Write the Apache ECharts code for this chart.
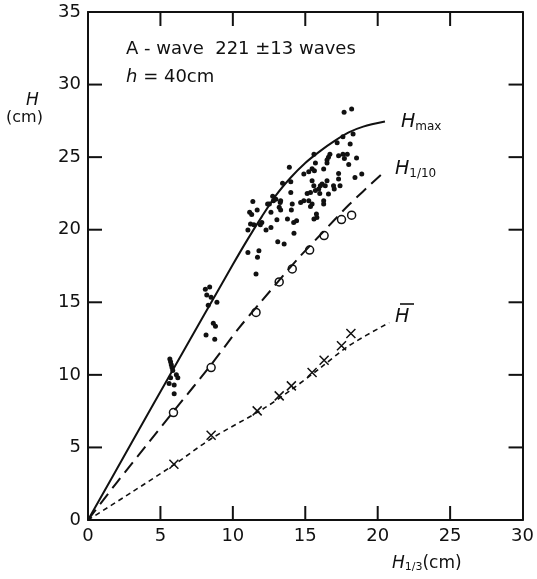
<!DOCTYPE html>
<html><head><meta charset="utf-8">
<script src="https://cdn.jsdelivr.net/npm/echarts@6/dist/echarts.min.js"></script>
<style>html,body{margin:0;padding:0;background:#fff}#c{width:537px;height:579px}</style>
</head><body><div id="c"></div>
<script>
// ---- data ----
const xRange = [0, 30];
const yRange = [0, 35];
const tickStep = 5;
const xTickValues = [5, 10, 15, 20, 25];
const yTickValues = [5, 10, 15, 20, 25, 30];

const hmaxCurve = [[0,0],[3,5.3],[6,10.6],[8,14.1],[10,17.6],[11,19.3],[12,20.9],[13,22.4],[14,23.6],[15,24.6],[16,25.4],[17,26.1],[18,26.7],[19,27.1],[20.5,27.45]];
const h10Curve = [[0,0],[2,2.6],[4,5.1],[6,7.6],[8.5,10.7],[10.4,13.2],[12,15.1],[14.4,17.9],[16,19.6],[18,21.7],[20.3,23.85]];
const hmeanCurve = [[0,0],[3,1.9],[6,3.85],[8.5,5.6],[12,7.6],[14,8.95],[16,10.45],[18,12.0],[20.8,13.6]];

const hmaxPoints = [
 [5.65,11.1],[5.7,10.9],[5.75,10.7],[5.8,10.5],[5.85,10.3],[6.1,10.0],[5.7,9.8],[6.2,9.8],[5.6,9.4],[5.95,9.3],[5.95,8.7],
 [8.1,15.9],[8.4,16.05],[8.2,15.5],[8.5,15.35],[8.9,15.0],[8.3,14.8],[8.65,13.55],[8.8,13.35],[8.15,12.75],[8.75,12.45],
 [11.04,18.43],[11.8,18.55],[11.7,18.1],[11.6,16.95],
 [11.38,21.95],[11.16,21.2],[11.3,21.05],[11.68,21.36],[12.52,21.77],[12.8,22.0],[12.97,22.1],[13.27,21.88],[13.2,21.54],
 [13.3,21.36],[12.63,21.2],[11.22,20.4],[11.45,20.34],[11.04,19.98],[12.0,20.5],[11.9,20.35],[12.29,19.98],[12.63,20.16],
 [13.04,20.69],[13.77,20.74],[14.1,21.77],[14.04,21.36],[14.4,20.62],[14.2,20.5],[14.22,19.75],[13.1,19.17],[13.54,19.01],
 [13.43,23.2],[14.0,23.3],[14.0,22.57],[13.9,24.3],[13.3,22.0],[14.68,21.88],[14.9,22.0],[12.75,22.3],[12.4,21.77],
 [14.9,23.84],[15.24,24.0],[15.47,24.2],[15.47,23.38],[15.59,23.03],[15.13,22.5],[15.36,22.57],[15.7,22.7],[15.93,22.8],
 [16.04,23.03],[16.16,23.15],[15.47,21.77],[15.36,21.6],[16.27,21.77],[15.8,20.85],[15.24,22.0],[15.6,20.74],[15.77,21.08],
 [17.68,28.09],[18.2,28.32],[17.6,26.4],[18.3,26.6],[17.2,26.0],[18.1,25.9],[15.6,25.2],[16.7,25.2],[16.6,25.0],[16.5,24.8],
 [17.3,25.1],[17.6,25.2],[17.9,25.2],[17.7,24.9],[18.0,24.5],[18.54,24.94],[15.63,24.07],[16.27,24.19],[17.3,23.88],[17.3,23.5],
 [18.43,23.6],[18.9,23.84],[16.5,23.38],[16.38,23.03],[16.95,23.03],[17.4,23.03],[16.6,22.46],[16.27,22.0],[15.7,24.6],[16.5,24.6],
 [16.0,22.5],[17.0,22.8]
];
const h10Points = [[5.9,7.4],[8.5,10.5],[11.6,14.3],[13.2,16.4],[14.1,17.3],[15.3,18.6],[16.3,19.6],[17.5,20.7],[18.2,21.0]];
const hmeanPoints = [[5.93,3.84],[8.5,5.84],[11.68,7.52],[13.2,8.55],[14.04,9.24],[15.47,10.16],[16.3,11.0],[17.5,12.0],[18.15,12.85]];

// ---- chart ----
const ink = '#111';
const FONT = 'DejaVu Sans';
const TICK_LEN = 14;
const chart = echarts.init(document.getElementById('c'), null, {renderer:'canvas'});
function mkAxis(min, max, pos, labels){
  return {
    type:'value', min:min, max:max, interval:tickStep, position:pos,
    axisLine:{show:true, onZero:false, lineStyle:{color:ink, width:2}},
    axisTick:{show:false},
    splitLine:{show:false},
    axisLabel: labels ? {show:true, color:ink, fontFamily:FONT, fontSize:18, margin:7} : {show:false}
  };
}
function tickLine(x1, y1, x2, y2){
  return {type:'line', shape:{x1:x1, y1:y1, x2:x2, y2:y2}, style:{stroke:ink, lineWidth:2}};
}
chart.setOption({
  animation:false,
  backgroundColor:'#fff',
  grid:{left:88, right:10, top:12, bottom:59},
  xAxis:[ mkAxis(xRange[0], xRange[1], 'bottom', true), mkAxis(xRange[0], xRange[1], 'top', false) ],
  yAxis:[ mkAxis(yRange[0], yRange[1], 'left', true), mkAxis(yRange[0], yRange[1], 'right', false) ],
  series:[
    // inward tick marks on all four sides, placed through the axes' own scales
    {type:'custom', silent:true, clip:false, data:xTickValues.map(v => [v, yRange[0]]),
      renderItem:function(params, api){
        const v = api.value(0);
        const b = api.coord([v, yRange[0]]);
        const t = api.coord([v, yRange[1]]);
        return {type:'group', children:[
          tickLine(b[0], b[1], b[0], b[1] - TICK_LEN),
          tickLine(t[0], t[1], t[0], t[1] + TICK_LEN)
        ]};
      }},
    {type:'custom', silent:true, clip:false, data:yTickValues.map(v => [xRange[0], v]),
      renderItem:function(params, api){
        const v = api.value(1);
        const l = api.coord([xRange[0], v]);
        const r = api.coord([xRange[1], v]);
        return {type:'group', children:[
          tickLine(l[0], l[1], l[0] + TICK_LEN, l[1]),
          tickLine(r[0], r[1], r[0] - TICK_LEN, r[1])
        ]};
      }},
    {type:'line', data:hmaxCurve, smooth:0.3, symbol:'none', lineStyle:{color:ink, width:2}},
    {type:'line', data:h10Curve, smooth:0.3, symbol:'none', lineStyle:{color:ink, width:2, type:[13,7]}},
    {type:'line', data:hmeanCurve, smooth:0.3, symbol:'none', lineStyle:{color:ink, width:1.6, type:[5,4]}},
    {type:'scatter', data:hmaxPoints, symbol:'circle', symbolSize:5, itemStyle:{color:ink, opacity:1}},
    {type:'scatter', data:h10Points, symbol:'circle', symbolSize:8, itemStyle:{color:'#fff', borderColor:ink, borderWidth:1.5, opacity:1}},
    {type:'scatter', data:hmeanPoints, symbol:'path://M0,0L10,10M10,0L0,10', symbolSize:9,
      itemStyle:{color:'rgba(0,0,0,0)', borderColor:ink, borderWidth:1.5, opacity:1}}
  ],
  graphic:[
    {type:'text', left:126, top:40, style:{text:'A - wave  221 ±13 waves', font:'18px "DejaVu Sans"', fill:ink}},
    {type:'text', left:126, top:68, style:{text:'{i|h} = 40cm', font:'18px "DejaVu Sans"', fill:ink,
      rich:{i:{fontStyle:'italic', fontFamily:FONT, fontSize:18}}}},
    {type:'text', left:26, top:92, style:{text:'H', font:'italic 17px "DejaVu Sans"', fill:ink}},
    {type:'text', left:6, top:110, style:{text:'(cm)', font:'16px "DejaVu Sans"', fill:ink}},
    {type:'text', left:392, top:555, style:{text:'{i|H}{s|1/3}(cm)', font:'17px "DejaVu Sans"', fill:ink,
      rich:{i:{fontStyle:'italic', fontFamily:FONT, fontSize:17}, s:{fontFamily:FONT, fontSize:11, padding:[8,0,0,0]}}}},
    {type:'text', left:401, top:113, style:{text:'{i|H}{s|max}', fill:ink,
      rich:{i:{fontStyle:'italic', fontFamily:FONT, fontSize:19}, s:{fontFamily:FONT, fontSize:12, padding:[8,0,0,0]}}}},
    {type:'text', left:395, top:160, style:{text:'{i|H}{s|1/10}', fill:ink,
      rich:{i:{fontStyle:'italic', fontFamily:FONT, fontSize:19}, s:{fontFamily:FONT, fontSize:12, padding:[8,0,0,0]}}}},
    {type:'text', left:395, top:308, style:{text:'H', font:'italic 19px "DejaVu Sans"', fill:ink}},
    {type:'line', shape:{x1:400, y1:304, x2:414, y2:304}, style:{stroke:ink, lineWidth:1.6}}
  ]
});
</script></body></html>
